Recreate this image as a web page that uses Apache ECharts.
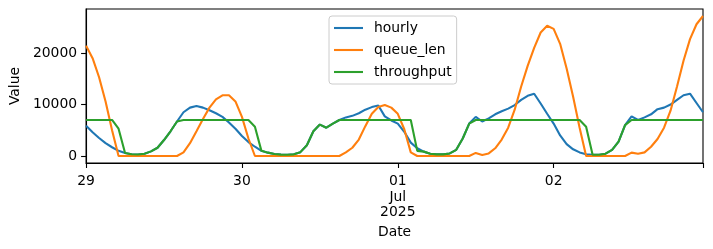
<!DOCTYPE html>
<html>
<head>
<meta charset="utf-8">
<script src="https://cdn.jsdelivr.net/npm/echarts@6/dist/echarts.min.js"></script>
<style>
html,body{margin:0;padding:0;background:#fff;}
#chart{width:713px;height:249px;}
</style>
</head>
<body>
<div id="chart"></div>
<script>
// Hourly points from 2025-06-29 00:00 to 2025-07-02 23:00 (x = hour index)
const tickHours = [0, 24, 48, 72];
const tickLabels = ['29', '30', '01\nJul\n2025', '02'];
const lastHour = 95;

const hourly = [
  5860, 4600, 3500, 2500, 1700, 1000, 600, 350, 280, 450, 900, 1600, 3100, 4800, 6700, 8500, 9400, 9700, 9400, 8900, 8300, 7600, 6500, 5300,
  3900, 2700, 1800, 1000, 650, 400, 270, 250, 320, 750, 2100, 4800, 6100, 5500, 6300, 7000, 7500, 7800, 8300, 9000, 9500, 9800, 7700, 6900,
  6300, 4700, 2600, 1500, 850, 450, 320, 320, 500, 1200, 3400, 6300, 7600, 6700, 7300, 8100, 8700, 9200, 9900, 10900, 11700, 12100, 10200, 8200,
  6300, 4000, 2300, 1300, 700, 350, 250, 250, 450, 1200, 2800, 6000, 7700, 7000, 7500, 8100, 9100, 9400, 10000, 10900, 11800, 12100, 10300, 8500
];
const queueLen = [
  21400, 19000, 15300, 10600, 5000, 0, 0, 0, 0, 0, 0, 0, 0, 0, 0, 700, 2500, 4800, 7200, 9400, 11000, 11800, 11800, 10600,
  7600, 3400, 0, 0, 0, 0, 0, 0, 0, 0, 0, 0, 0, 0, 0, 0, 700, 1600, 3200, 5800, 8200, 9500, 9900, 9400,
  8200, 5200, 700, 0, 0, 0, 0, 0, 0, 0, 0, 0, 600, 200, 500, 1500, 3200, 5500, 9000, 13500, 17500, 21000, 24000, 25300,
  24700, 21800, 17000, 11500, 5500, 0, 0, 0, 0, 0, 0, 0, 650, 450, 700, 1800, 3300, 5500, 8800, 13500, 18500, 22700, 25600, 27200
];
const throughput = [
  7000, 7000, 7000, 7000, 7000, 5300, 600, 350, 280, 450, 900, 1600, 3100, 4800, 6700, 7000, 7000, 7000, 7000, 7000, 7000, 7000, 7000, 7000,
  7000, 7000, 5700, 1000, 650, 400, 270, 250, 320, 750, 2100, 4800, 6100, 5500, 6300, 7000, 7000, 7000, 7000, 7000, 7000, 7000, 7000, 7000,
  7000, 7000, 7000, 1000, 850, 450, 320, 320, 500, 1200, 3400, 6300, 7000, 7000, 7000, 7000, 7000, 7000, 7000, 7000, 7000, 7000, 7000, 7000,
  7000, 7000, 7000, 7000, 7000, 5700, 250, 250, 450, 1200, 2800, 6000, 7000, 7000, 7000, 7000, 7000, 7000, 7000, 7000, 7000, 7000, 7000, 7000
];
const yTicks = [0, 10000, 20000];
const seriesNames = ['hourly', 'queue_len', 'throughput'];
const colors = ['#1f77b4', '#ff7f0e', '#2ca02c'];

const toPairs = arr => arr.map((v, i) => [i, v]);
const allVals = hourly.concat(queueLen, throughput);
const dMin = Math.min(...allVals), dMax = Math.max(...allVals);
const pad = (dMax - dMin) * 0.05;

const FONT = 'DejaVu Sans';
const FS = 13.9;

const chart = echarts.init(document.getElementById('chart'), null, {renderer: 'canvas'});
chart.setOption({
  animation: false,
  backgroundColor: '#fff',
  textStyle: {fontFamily: FONT},
  grid: {left: 83, right: 10, top: 9, bottom: 86, show: true, borderColor: '#000', borderWidth: 1.1, backgroundColor: 'transparent'},
  legend: {
    orient: 'vertical',
    left: 329, top: 16,
    padding: [5, 5, 5, 5],
    icon: 'rect',
    itemWidth: 29, itemHeight: 2.1, itemGap: 8,
    backgroundColor: 'rgba(255,255,255,0.8)',
    borderColor: '#cccccc', borderWidth: 1, borderRadius: 3,
    textStyle: {fontFamily: FONT, fontSize: FS, color: '#000', lineHeight: 14, padding: [0, 0, 0, 6]},
    data: seriesNames
  },
  xAxis: {
    type: 'value', min: 0, max: lastHour,
    name: 'Date', nameLocation: 'middle', nameGap: 55,
    nameTextStyle: {fontFamily: FONT, fontSize: FS, color: '#000'},
    axisLine: {show: true, onZero: false, lineStyle: {color: '#000', width: 1.1}},
    axisTick: {show: true, length: 5, lineStyle: {color: '#000', width: 1.1}, customValues: tickHours.concat([lastHour])},
    axisLabel: {fontFamily: FONT, fontSize: FS, color: '#000', margin: 11, lineHeight: 15.5,
      customValues: tickHours,
      formatter: v => { const k = tickHours.indexOf(v); return k >= 0 ? tickLabels[k] : ''; }},
    splitLine: {show: false}
  },
  yAxis: {
    type: 'value', min: dMin - pad, max: dMax + pad,
    name: 'Value', nameLocation: 'middle', nameGap: 60, nameRotate: 90,
    nameTextStyle: {fontFamily: FONT, fontSize: FS, color: '#000'},
    axisLine: {show: true, onZero: false, lineStyle: {color: '#000', width: 1.1}},
    axisTick: {show: true, length: 5, lineStyle: {color: '#000', width: 1.1}, customValues: yTicks},
    axisLabel: {fontFamily: FONT, fontSize: FS, color: '#000', margin: 9, customValues: yTicks,
      formatter: v => String(Math.round(v))},
    splitLine: {show: false}
  },
  series: [hourly, queueLen, throughput].map((arr, i) => ({
    name: seriesNames[i], type: 'line', data: toPairs(arr),
    symbol: 'none', showSymbol: false,
    lineStyle: {color: colors[i], width: 2.1},
    itemStyle: {color: colors[i]},
    clip: true
  }))
});
</script>
</body>
</html>
